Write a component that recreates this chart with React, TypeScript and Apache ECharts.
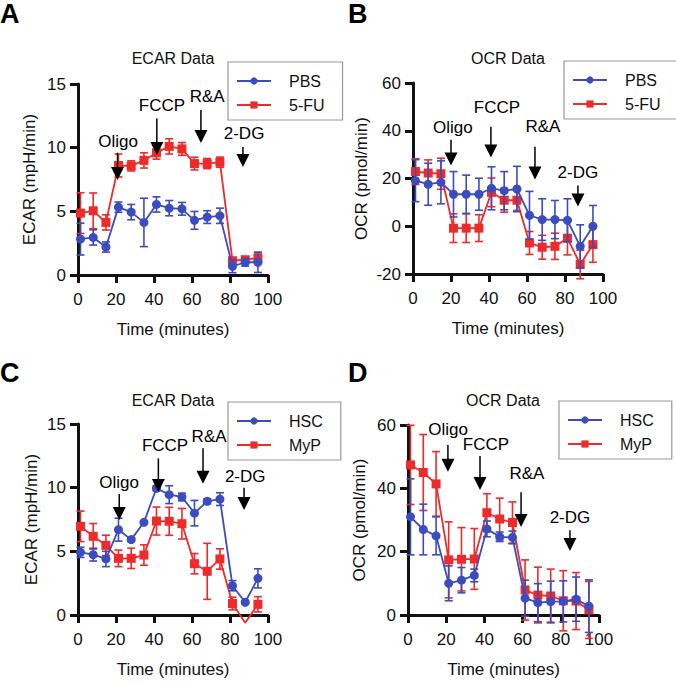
import React, { useEffect, useRef } from 'react';
import * as echarts from 'echarts';

// ---------- data ----------
const time = [1.3, 8, 14.7, 21.3, 28, 34.7, 41.3, 48, 54.7, 61.3, 68, 74.7, 81.3, 88, 94.7];

// Panel A – ECAR
const ecarPBS = [2.82, 2.95, 2.2, 5.33, 4.94, 4.13, 5.54, 5.25, 5.2, 4.29, 4.55, 4.65, 0.68, 1.0, 1.0];
const ecarPBSErr = [1.25, 0.6, 0.4, 0.4, 0.6, 1.9, 0.6, 0.6, 0.5, 0.7, 0.5, 0.6, 0.5, 0.3, 0.8];
const ecarFU = [4.86, 5.04, 4.13, 8.6, 8.57, 9.0, 9.6, 10.1, 9.9, 8.75, 8.75, 8.86, 1.12, 1.2, 1.33];
const ecarFUErr = [1.6, 1.4, 0.6, 0.9, 0.4, 0.6, 0.5, 0.6, 0.5, 0.5, 0.4, 0.4, 0.2, 0.2, 0.4];

// Panel B – OCR
const ocrPBS = [19.1, 17.6, 18.4, 13.4, 13.4, 13.4, 15.9, 14.9, 15.6, 4.6, 2.8, 2.8, 2.5, -8.4, 0];
const ocrPBSErr = [8.8, 8.8, 9, 9.5, 8, 6.7, 9, 8, 9.5, 10, 8.7, 8, 9, 9, 8.7];
const ocrFU = [22.9, 22.3, 22, -0.8, -0.8, -0.8, 14.2, 10.9, 10.9, -7, -8.8, -8.4, -5, -16, -7.7];
const ocrFUErr = [5.4, 5.5, 6.5, 6, 6, 5.6, 6, 5, 4.3, 4.8, 5, 5.5, 7, 6, 7.4];

// Panel C – ECAR
const ecarHSC = [4.92, 4.74, 4.4, 6.7, 5.92, 7.28, 9.95, 9.45, 9.27, 8.0, 8.93, 9.1, 2.3, 1.0, 2.88];
const ecarHSCErr = [0.4, 0.5, 0.6, 0.9, 0.15, 0.1, 0.2, 0.7, 0.3, 1.0, 0.2, 0.5, 0.4, 0.1, 0.75];
const ecarMyP = [6.96, 6.18, 5.47, 4.45, 4.45, 4.71, 7.38, 7.36, 7.17, 4.03, 3.43, 4.4, 0.9, -0.6, 0.84];
const ecarMyPErr = [1.2, 1.0, 0.8, 0.65, 0.8, 0.8, 1.1, 1.1, 1.2, 0.8, 2.2, 0.8, 0.5, 0, 0.6];

// Panel D – OCR
const ocrHSC = [31, 27, 25, 10, 11, 12.5, 27.2, 24.7, 24.5, 5.3, 3.9, 4.2, 4.3, 5, 2.8];
const ocrHSCErr = [12, 8, 6, 5.5, 4, 2, 2.5, 1.5, 2, 5.7, 6, 6.5, 6.5, 7, 8.3];
const ocrMyP = [47.4, 45, 41.4, 17.4, 17.6, 17.7, 32.3, 30.3, 29.2, 7.9, 6.3, 6.0, 4.5, 4.4, 1.6];
const ocrMyPErr = [12.5, 12, 10.2, 12, 10, 9.6, 6, 6.6, 6.5, 9.5, 8.8, 8.5, 9.5, 9, 9];

// Injection annotations (data units): arrow x, arrow top, arrow tip, label x, label y
const annotA = [
  { label: 'Oligo', x: 20.8, top: 9.6, tip: 7.46, lx: 21.1, ly: 10.45 },
  { label: 'FCCP', x: 41.5, top: 12.3, tip: 9.43, lx: 44.2, ly: 13.35 },
  { label: 'R&A', x: 64.7, top: 12.96, tip: 10.37, lx: 68, ly: 14.0 },
  { label: '2-DG', x: 86.8, top: 10.05, tip: 8.48, lx: 87.4, ly: 11.15 },
];
const annotB = [
  { label: 'Oligo', x: 20, top: 36.25, tip: 25.4, lx: 21, ly: 41.25 },
  { label: 'FCCP', x: 41, top: 41.7, tip: 28.75, lx: 44.2, ly: 49.6 },
  { label: 'R&A', x: 64.2, top: 33.3, tip: 19.6, lx: 68.4, ly: 41.7 },
  { label: '2-DG', x: 86.8, top: 17.1, tip: 8.3, lx: 86.8, ly: 22.5 },
];
const annotC = [
  { label: 'Oligo', x: 21.7, top: 9.5, tip: 7.46, lx: 21.6, ly: 10.4 },
  { label: 'FCCP', x: 42.3, top: 12.3, tip: 9.66, lx: 45.8, ly: 13.3 },
  { label: 'R&A', x: 65.8, top: 13.1, tip: 10.3, lx: 69, ly: 14.0 },
  { label: '2-DG', x: 87.4, top: 10.0, tip: 8.25, lx: 88, ly: 10.85 },
];
const annotD = [
  { label: 'Oligo', x: 20.9, top: 53.7, tip: 45.2, lx: 21, ly: 58.7 },
  { label: 'FCCP', x: 37.7, top: 50.2, tip: 39.5, lx: 40.8, ly: 53.7 },
  { label: 'R&A', x: 59.2, top: 38.8, tip: 27.8, lx: 62.3, ly: 44.8 },
  { label: '2-DG', x: 84.8, top: 26.8, tip: 20.2, lx: 84.8, ly: 30.9 },
];

// ---------- styling ----------
const BLUE = '#3a4cbf';
const RED = '#ee2a2a';
const FONT = '"Liberation Sans", Arial, Helvetica, sans-serif';

type Annot = { label: string; x: number; top: number; tip: number; lx: number; ly: number };
type Panel = {
  letter: string;
  title: string;
  grid: { left: number; top: number; width: number; height: number };
  yMin: number;
  yMax: number;
  yName: string;
  nameGap: number;
  blueName: string;
  blue: number[];
  blueErr: number[];
  redName: string;
  red: number[];
  redErr: number[];
  annots: Annot[];
  legendPos: { left: number; top: number };
};

const panels: Panel[] = [
  {
    letter: 'A', title: 'ECAR Data',
    grid: { left: 78, top: 84, width: 190, height: 191 },
    yMin: 0, yMax: 15, yName: 'ECAR (mpH/min)', nameGap: 40,
    blueName: 'PBS', blue: ecarPBS, blueErr: ecarPBSErr,
    redName: '5-FU', red: ecarFU, redErr: ecarFUErr,
    annots: annotA, legendPos: { left: 228, top: 62 },
  },
  {
    letter: 'B', title: 'OCR Data',
    grid: { left: 413, top: 83, width: 190, height: 191 },
    yMin: -20, yMax: 60, yName: 'OCR (pmol/min)', nameGap: 43,
    blueName: 'PBS', blue: ocrPBS, blueErr: ocrPBSErr,
    redName: '5-FU', red: ocrFU, redErr: ocrFUErr,
    annots: annotB, legendPos: { left: 564, top: 61 },
  },
  {
    letter: 'C', title: 'ECAR Data',
    grid: { left: 78, top: 424, width: 190, height: 191 },
    yMin: 0, yMax: 15, yName: 'ECAR (mpH/min)', nameGap: 38,
    blueName: 'HSC', blue: ecarHSC, blueErr: ecarHSCErr,
    redName: 'MyP', red: ecarMyP, redErr: ecarMyPErr,
    annots: annotC, legendPos: { left: 228, top: 402 },
  },
  {
    letter: 'D', title: 'OCR Data',
    grid: { left: 408, top: 425, width: 191, height: 190 },
    yMin: 0, yMax: 60, yName: 'OCR (pmol/min)', nameGap: 40,
    blueName: 'HSC', blue: ocrHSC, blueErr: ocrHSCErr,
    redName: 'MyP', red: ocrMyP, redErr: ocrMyPErr,
    annots: annotD, legendPos: { left: 559, top: 401 },
  },
];

const yInterval = (p: Panel) => (p.yMax - p.yMin === 15 ? 5 : 20);

const errRender = (color: string) => (params: any, api: any) => {
  const x = api.value(0);
  const lo = api.value(1);
  const hi = api.value(2);
  if (hi - lo <= 0) return null;
  const a = api.coord([x, hi]);
  const b = api.coord([x, lo]);
  const w = 4;
  const style = { stroke: color, lineWidth: 1.6 };
  return {
    type: 'group',
    children: [
      { type: 'line', shape: { x1: a[0], y1: a[1], x2: b[0], y2: b[1] }, style },
      { type: 'line', shape: { x1: a[0] - w, y1: a[1], x2: a[0] + w, y2: a[1] }, style },
      { type: 'line', shape: { x1: b[0] - w, y1: b[1], x2: b[0] + w, y2: b[1] }, style },
    ],
  };
};

const arrowRender = (annots: Annot[]) => (params: any, api: any) => {
  const a = annots[params.dataIndex];
  const top = api.coord([a.x, a.top]);
  const tip = api.coord([a.x, a.tip]);
  const lab = api.coord([a.lx, a.ly]);
  const hw = 6.5;
  const hh = 13;
  return {
    type: 'group',
    children: [
      {
        type: 'line',
        shape: { x1: top[0], y1: top[1], x2: tip[0], y2: tip[1] - hh + 1 },
        style: { stroke: '#000', lineWidth: 1.5 },
      },
      {
        type: 'polygon',
        shape: { points: [[tip[0] - hw, tip[1] - hh], [tip[0] + hw, tip[1] - hh], [tip[0], tip[1]]] },
        style: { fill: '#000' },
      },
      {
        type: 'text',
        x: lab[0],
        y: lab[1],
        style: {
          text: a.label,
          font: `17px ${FONT}`,
          fill: '#000',
          align: 'center',
          verticalAlign: 'middle',
          textAlign: 'center',
          textVerticalAlign: 'middle',
        },
      },
    ],
  };
};

function buildOption() {
  const grid: any[] = [];
  const xAxis: any[] = [];
  const yAxis: any[] = [];
  const series: any[] = [];
  const legend: any[] = [];
  const graphic: any[] = [];

  panels.forEach((p, i) => {
    grid.push({ ...p.grid, containLabel: false });
    const axisCommon = {
      axisLine: { show: true, onZero: false, lineStyle: { color: '#111', width: 3 } },
      axisTick: { show: true, length: 8, lineStyle: { color: '#111', width: 3 } },
      splitLine: { show: false },
      nameTextStyle: { fontSize: 17, fontFamily: FONT, color: '#111' },
    };
    xAxis.push({
      ...axisCommon,
      gridIndex: i,
      type: 'value',
      min: 0,
      max: 100,
      interval: 20,
      name: 'Time (minutes)',
      nameLocation: 'middle',
      nameGap: 46,
      axisLabel: { fontSize: 17, fontFamily: FONT, color: '#111', margin: 16 },
    });
    yAxis.push({
      ...axisCommon,
      gridIndex: i,
      type: 'value',
      min: p.yMin,
      max: p.yMax,
      interval: yInterval(p),
      name: p.yName,
      nameLocation: 'middle',
      nameGap: p.nameGap,
      axisLabel: { fontSize: 17, fontFamily: FONT, color: '#111', margin: 12 },
    });

    const lineData = (vals: number[]) =>
      vals.map((v, k) =>
        v < p.yMin || v > p.yMax
          ? { value: [time[k], v], symbol: 'none' }
          : { value: [time[k], v] }
      );
    const errData = (vals: number[], errs: number[]) =>
      vals.map((v, k) => [time[k], v - errs[k], v + errs[k]]);

    series.push({
      type: 'custom',
      name: p.redName + ' SEM',
      xAxisIndex: i,
      yAxisIndex: i,
      data: errData(p.red, p.redErr),
      encode: { x: 0, y: [1, 2] },
      renderItem: errRender(RED),
      clip: false,
      silent: true,
      z: 2,
    });
    series.push({
      type: 'line',
      name: p.redName,
      xAxisIndex: i,
      yAxisIndex: i,
      data: lineData(p.red),
      symbol: 'rect',
      symbolSize: 9,
      clip: false,
      lineStyle: { color: RED, width: 1.8 },
      itemStyle: { color: RED },
      z: 3,
    });
    series.push({
      type: 'custom',
      name: p.blueName + ' SEM',
      xAxisIndex: i,
      yAxisIndex: i,
      data: errData(p.blue, p.blueErr),
      encode: { x: 0, y: [1, 2] },
      renderItem: errRender(BLUE),
      clip: false,
      silent: true,
      z: 4,
    });
    series.push({
      type: 'line',
      name: p.blueName,
      xAxisIndex: i,
      yAxisIndex: i,
      data: lineData(p.blue),
      symbol: 'circle',
      symbolSize: 9,
      clip: false,
      lineStyle: { color: BLUE, width: 1.8 },
      itemStyle: { color: BLUE },
      z: 5,
    });
    series.push({
      type: 'custom',
      name: 'injections ' + p.letter,
      xAxisIndex: i,
      yAxisIndex: i,
      data: p.annots.map((a) => [a.x, a.tip]),
      encode: { x: 0, y: 1 },
      renderItem: arrowRender(p.annots),
      clip: false,
      silent: true,
      z: 6,
    });

    legend.push({
      data: [p.blueName, p.redName],
      left: p.legendPos.left,
      top: p.legendPos.top,
      orient: 'vertical',
      itemWidth: 34,
      itemHeight: 9,
      itemGap: 8,
      padding: [11, 18, 7, 8],
      borderColor: '#9a9a9a',
      borderWidth: 1.2,
      selectedMode: false,
      textStyle: {
        fontSize: 16,
        lineHeight: 16,
        fontFamily: FONT,
        color: '#111',
        padding: [0, 0, 0, 13],
      },
    });

    // panel letter
    graphic.push({
      type: 'text',
      x: i % 2 === 0 ? 0 : 348,
      y: i < 2 ? 14 : 373,
      style: {
        text: p.letter,
        font: `bold 27px ${FONT}`,
        fill: '#000',
        verticalAlign: 'middle',
        textVerticalAlign: 'middle',
      },
    });
    // panel title
    graphic.push({
      type: 'text',
      x: p.grid.left + 95,
      y: i < 2 ? 58 : 400,
      style: {
        text: p.title,
        font: `16px ${FONT}`,
        fill: '#111',
        align: 'center',
        verticalAlign: 'middle',
        textAlign: 'center',
        textVerticalAlign: 'middle',
      },
    });
  });

  return {
    animation: false,
    backgroundColor: '#fff',
    grid,
    xAxis,
    yAxis,
    series,
    legend,
    graphic,
  };
}

export default function App() {
  const ref = useRef<HTMLDivElement>(null);
  useEffect(() => {
    if (!ref.current) return;
    const chart = echarts.init(ref.current, undefined, { renderer: 'svg' });
    chart.setOption(buildOption() as any);
    return () => chart.dispose();
  }, []);
  return (
    <div
      ref={ref}
      style={{ position: 'absolute', left: 0, top: 0, width: 676, height: 682, background: '#fff' }}
    />
  );
}
